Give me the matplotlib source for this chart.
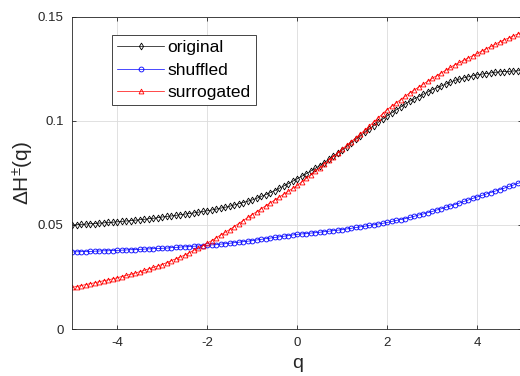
import numpy as np
import matplotlib
matplotlib.use("Agg")
import matplotlib.pyplot as plt

plt.rcParams['font.family'] = ['Liberation Sans', 'DejaVu Sans']
plt.rcParams['mathtext.default'] = 'regular'

# q from -5 to 5, step 0.1
q = np.linspace(-5, 5, 101)

original = [
    0.0500, 0.0501, 0.0503, 0.0504, 0.0506, 0.0507, 0.0509, 0.0510, 0.0512, 0.0513,
    0.0515, 0.0517, 0.0519, 0.0521, 0.0523, 0.0525, 0.0527, 0.0530, 0.0532, 0.0535,
    0.0538, 0.0541, 0.0543, 0.0546, 0.0549, 0.0552, 0.0555, 0.0558, 0.0561, 0.0565,
    0.0568, 0.0572, 0.0576, 0.0581, 0.0585, 0.0590, 0.0596, 0.0602, 0.0608, 0.0614,
    0.0620, 0.0628, 0.0637, 0.0646, 0.0655, 0.0665, 0.0676, 0.0687, 0.0698, 0.0710,
    0.0722, 0.0734, 0.0746, 0.0759, 0.0772, 0.0785, 0.0800, 0.0815, 0.0830, 0.0845,
    0.0860, 0.0877, 0.0894, 0.0911, 0.0928, 0.0945, 0.0961, 0.0977, 0.0993, 0.1009,
    0.1025, 0.1039, 0.1053, 0.1067, 0.1081, 0.1095, 0.1106, 0.1117, 0.1128, 0.1139,
    0.1150, 0.1159, 0.1168, 0.1177, 0.1186, 0.1195, 0.1201, 0.1207, 0.1212, 0.1217,
    0.1222, 0.1225, 0.1228, 0.1231, 0.1234, 0.1236, 0.1237, 0.1238, 0.1240, 0.1241,
    0.1242]

shuffled = [
    0.0370, 0.0371, 0.0372, 0.0372, 0.0373, 0.0374, 0.0375, 0.0376, 0.0376, 0.0377,
    0.0378, 0.0379, 0.0380, 0.0381, 0.0382, 0.0383, 0.0384, 0.0385, 0.0386, 0.0387,
    0.0388, 0.0389, 0.0391, 0.0392, 0.0394, 0.0395, 0.0396, 0.0398, 0.0399, 0.0401,
    0.0402, 0.0404, 0.0406, 0.0408, 0.0410, 0.0412, 0.0415, 0.0417, 0.0420, 0.0422,
    0.0425, 0.0428, 0.0431, 0.0434, 0.0437, 0.0440, 0.0443, 0.0446, 0.0449, 0.0452,
    0.0455, 0.0457, 0.0459, 0.0461, 0.0463, 0.0465, 0.0468, 0.0470, 0.0473, 0.0475,
    0.0478, 0.0481, 0.0484, 0.0488, 0.0491, 0.0494, 0.0498, 0.0501, 0.0505, 0.0508,
    0.0512, 0.0517, 0.0522, 0.0526, 0.0531, 0.0536, 0.0542, 0.0548, 0.0553, 0.0559,
    0.0565, 0.0572, 0.0578, 0.0585, 0.0591, 0.0598, 0.0605, 0.0613, 0.0620, 0.0628,
    0.0635, 0.0642, 0.0649, 0.0656, 0.0663, 0.0670, 0.0677, 0.0685, 0.0692, 0.0700,
    0.0707]

surrogated = [
    0.0200, 0.0204, 0.0209, 0.0213, 0.0218, 0.0222, 0.0227, 0.0232, 0.0236, 0.0241,
    0.0246, 0.0252, 0.0258, 0.0263, 0.0269, 0.0275, 0.0282, 0.0289, 0.0296, 0.0303,
    0.0310, 0.0319, 0.0328, 0.0337, 0.0346, 0.0355, 0.0366, 0.0378, 0.0389, 0.0401,
    0.0412, 0.0425, 0.0438, 0.0452, 0.0465, 0.0478, 0.0492, 0.0507, 0.0521, 0.0536,
    0.0550, 0.0564, 0.0578, 0.0592, 0.0606, 0.0620, 0.0634, 0.0648, 0.0662, 0.0676,
    0.0690, 0.0707, 0.0724, 0.0741, 0.0758, 0.0775, 0.0793, 0.0811, 0.0829, 0.0847,
    0.0865, 0.0883, 0.0901, 0.0919, 0.0937, 0.0955, 0.0975, 0.0995, 0.1015, 0.1035,
    0.1055, 0.1071, 0.1087, 0.1103, 0.1119, 0.1135, 0.1149, 0.1163, 0.1177, 0.1191,
    0.1205, 0.1218, 0.1231, 0.1244, 0.1257, 0.1270, 0.1281, 0.1292, 0.1303, 0.1314,
    0.1325, 0.1336, 0.1347, 0.1358, 0.1369, 0.1380, 0.1390, 0.1399, 0.1409, 0.1418,
    0.1428]

xticks = [-4, -2, 0, 2, 4]
yticks = [0, 0.05, 0.1, 0.15]
ytick_labels = ['0', '0.05', '0.1', '0.15']

fig = plt.figure(figsize=(5.2, 3.76), dpi=100)
ax = fig.add_axes([0.1385, 0.125, 0.866, 0.83])

ax.plot(q, original, color='black', marker='d', markersize=3.5, fillstyle='none',
        markeredgewidth=0.6, linewidth=0.5, label='original')
ax.plot(q, shuffled, color='blue', marker='o', markersize=3.5, fillstyle='none',
        markeredgewidth=0.6, linewidth=0.5, label='shuffled')
ax.plot(q, surrogated, color='red', marker='^', markersize=3.5, fillstyle='none',
        markeredgewidth=0.6, linewidth=0.5, label='surrogated')

ax.set_xlim(-5, 5)
ax.set_ylim(0, 0.15)
ax.set_xticks(xticks)
ax.set_xticklabels([str(t) for t in xticks])
ax.set_yticks(yticks)
ax.set_yticklabels(ytick_labels)
ax.grid(True, color='#dcdcdc', linewidth=0.6)
ax.set_axisbelow(True)

ax.tick_params(direction='in', length=3, width=0.6, colors='#262626',
               labelsize=9.5, top=True, right=True, pad=6)
for s in ax.spines.values():
    s.set_color('#262626')
    s.set_linewidth(0.6)

ax.set_xlabel('q', fontsize=14, color='#262626', labelpad=4)
ax.set_ylabel('ΔH$^{\\pm}$(q)', fontsize=15, color='#262626', labelpad=1)

leg = ax.legend(loc='upper left', bbox_to_anchor=(0.089, 0.942), fontsize=12.5,
                fancybox=False, framealpha=1, edgecolor='#262626',
                handlelength=2.7, borderaxespad=0, handletextpad=0.2,
                labelspacing=0.42, borderpad=0.3)
leg.get_frame().set_linewidth(0.6)

fig.savefig('out.png', dpi=100)
